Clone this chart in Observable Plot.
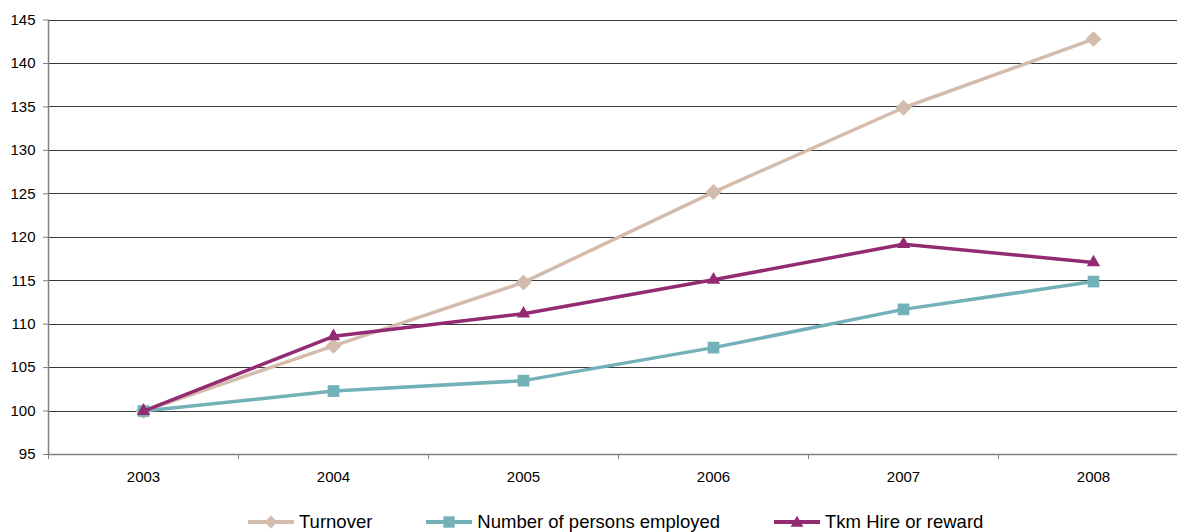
<!DOCTYPE html>
<html><head><meta charset="utf-8">
<script src="https://cdn.jsdelivr.net/npm/d3@7"></script>
<script src="https://cdn.jsdelivr.net/npm/@observablehq/plot@0.6"></script>
<style>
body{margin:0;background:#fff;overflow:hidden;font-family:"Liberation Sans",Arial,sans-serif;}
#legend{display:flex;align-items:center;height:28px;padding-left:248px;font-size:18.5px;color:#000;white-space:nowrap;}
.item{display:flex;align-items:center;margin-right:54px}
.item svg{margin-right:5px;display:block}
</style></head><body><div id="chart"></div><div id="legend"></div>
<script>
const years=[2003,2004,2005,2006,2007,2008];
const turnover=[100,107.5,114.8,125.2,134.9,142.8];
const employed=[100,102.3,103.5,107.3,111.7,114.9];
const tkm=[100,108.6,111.2,115.1,119.2,117.1];
const seriesNames=["Turnover","Number of persons employed","Tkm Hire or reward"];
const seriesColors=["#D3BCAD","#73B1B8","#922B72"];
const seriesSymbols=["diamond2","square","triangle"];
const seriesR=[7.2,6.6,5.0];
const yTicks=[95,100,105,110,115,120,125,130,135,140,145];

const seriesValues=[turnover,employed,tkm];
const rows=[];
seriesNames.forEach((name,i)=>years.forEach((yr,j)=>rows.push({series:name,idx:i,year:yr,value:seriesValues[i][j]})));
const boundaries=years.map(y=>y-0.5).concat([years[years.length-1]+0.5]);

const marks=[
  Plot.gridY(yTicks,{stroke:"#3a3a3a",strokeOpacity:1,strokeWidth:1,shapeRendering:"crispEdges"}),
  Plot.ruleY([95],{stroke:"#808080",strokeWidth:1.5}),
  Plot.ruleX([boundaries[0]],{y1:95,y2:145,stroke:"#808080",strokeWidth:1.5}),
  Plot.axisY(yTicks,{tickSize:5,tickPadding:8,fontSize:15,stroke:"#808080",fill:"#000",label:null,tickFormat:d=>String(d)}),
  Plot.axisX(years,{tickSize:0,tickPadding:16.5,fontSize:15,fill:"#000",label:null,tickFormat:d=>String(d)}),
  Plot.axisX(boundaries,{tickSize:5,stroke:"#808080",label:null,tickFormat:()=>""})
];
seriesNames.forEach((name,i)=>{
  const d=rows.filter(r=>r.idx===i);
  marks.push(Plot.line(d,{x:"year",y:"value",stroke:seriesColors[i],strokeWidth:3.5}));
  marks.push(Plot.dot(d,{x:"year",y:"value",fill:seriesColors[i],stroke:"none",symbol:()=>seriesSymbols[i],r:seriesR[i]}));
});

const chart=Plot.plot({
  width:1177,height:508,
  marginLeft:48,marginRight:-11,marginTop:19.5,marginBottom:54,
  style:{fontFamily:"'Liberation Sans', Arial, sans-serif",background:"#fff",color:"#000"},
  x:{type:"linear",domain:[boundaries[0],boundaries[boundaries.length-1]],axis:null},
  y:{domain:[95,145],axis:null},
  marks
});
document.getElementById("chart").appendChild(chart);

const legend=document.getElementById("legend");
const symMap={diamond2:d3.symbolDiamond2,square:d3.symbolSquare,triangle:d3.symbolTriangle};
const legendSize=[110,130,70];
seriesNames.forEach((name,i)=>{
  const item=document.createElement("div");item.className="item";
  const path=d3.symbol(symMap[seriesSymbols[i]],legendSize[i])();
  item.innerHTML=`<svg width="46" height="16" viewBox="0 0 46 16"><line x1="0" x2="46" y1="8" y2="8" stroke="${seriesColors[i]}" stroke-width="4"/><path transform="translate(23,${i===2?9:8})" d="${path}" fill="${seriesColors[i]}"/></svg><span>${name}</span>`;
  legend.appendChild(item);
});
</script></body></html>
